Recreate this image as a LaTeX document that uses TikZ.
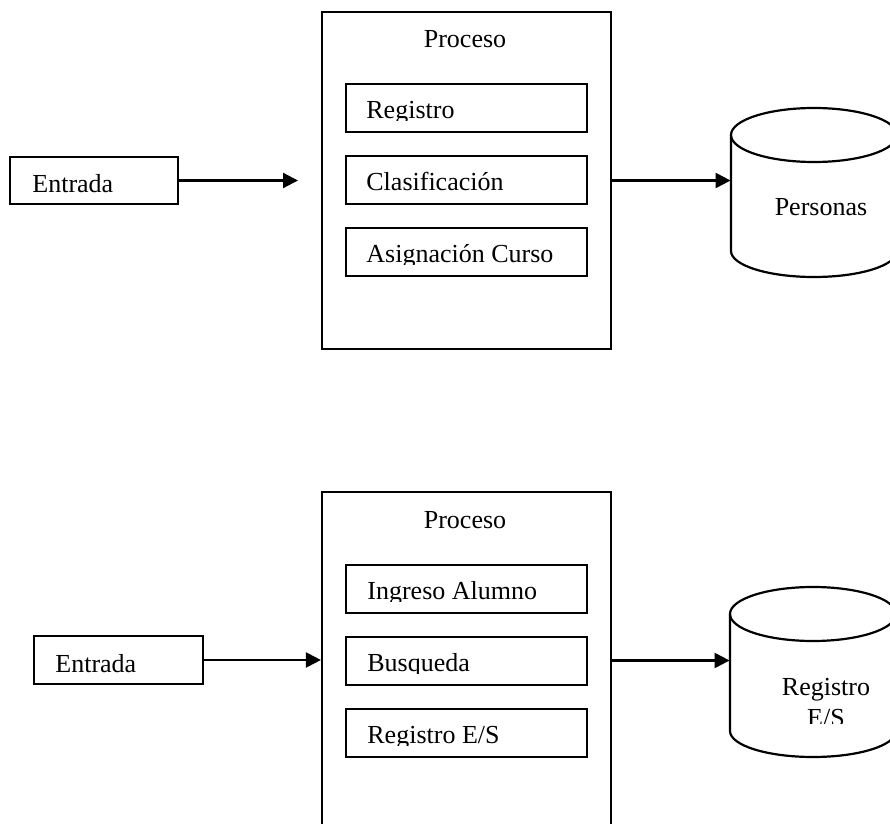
\documentclass[tikz,border=0pt]{standalone}
\usepackage{fontspec}
\setmainfont{Liberation Serif}
\usetikzlibrary{arrows.meta}
\tikzset{
  box/.style={draw, line width=1.1pt, rectangle, inner sep=0pt},
  procbox/.style={box, minimum width=144.5pt, minimum height=168.5pt},
  inbox/.style={box, minimum width=120.5pt, minimum height=24pt},
  lbl/.style={inner sep=0pt, font=\fontsize{13pt}{15pt}\selectfont},
  arr/.style={line width=1.1pt, -{Triangle[length=7.5pt,width=7.5pt]}},
  db/.style={line width=1.1pt},
  dbnode/.style={inner sep=0pt, minimum width=83pt, minimum height=84.5pt},
}
\begin{document}
\begin{tikzpicture}[x=0.5pt,y=-0.5pt]
\useasboundingbox (0,0) rectangle (890,824);
\clip (0,0) rectangle (890,824);

% ---------------- top diagram ----------------
\node[procbox] (p1) at (466.5,180.5) {};
\node[lbl, anchor=base] (p1t) at (465,48) {Proceso};

\node[inbox] (r1) at (466.5,108) {};
\begin{scope}\clip (340,80) rectangle (600,121);
  \node[lbl, anchor=base west] (r1t) at (366,119) {Registro};
\end{scope}
\node[inbox] (r2) at (466.5,180) {};
\begin{scope}\clip (340,152) rectangle (600,193);
  \node[lbl, anchor=base west] (r2t) at (366,191) {Clasificación};
\end{scope}
\node[inbox] (r3) at (466.5,252) {};
\begin{scope}\clip (340,224) rectangle (600,265);
  \node[lbl, anchor=base west] (r3t) at (366,263) {Asignación Curso};
\end{scope}

\node[box, minimum width=84pt, minimum height=23.5pt] (e1) at (94,180.5) {};
\node[lbl, anchor=base west] (e1t) at (32,193) {Entrada};
\coordinate (a1) at (298,180.5);
\draw[arr] (e1.east) -- (a1);

\node[dbnode] (db1) at (814,192.5) {};
\draw[db] (731,135) -- (731,251)
  arc[start angle=180, end angle=360, x radius=41.5pt, y radius=13pt] -- (897,135);
\draw[db] (814,135) ellipse [x radius=41.5pt, y radius=13.5pt];
\node[lbl, anchor=base] (db1t) at (821,215) {Personas};
\draw[arr] (p1.east) -- (db1.west |- p1.east);

% ---------------- bottom diagram ----------------
\node[procbox] (p2) at (466.5,660.5) {};
\node[lbl, anchor=base] (p2t) at (465,528) {Proceso};

\node[inbox] (s1) at (466.5,589) {};
\begin{scope}\clip (340,560) rectangle (600,601);
  \node[lbl, anchor=base west] (s1t) at (367,599) {Ingreso Alumno};
\end{scope}
\node[inbox] (s2) at (466.5,661) {};
\begin{scope}\clip (340,632) rectangle (600,673);
  \node[lbl, anchor=base west] (s2t) at (367,671) {Busqueda};
\end{scope}
\node[inbox] (s3) at (466.5,733) {};
\begin{scope}\clip (340,704) rectangle (600,745);
  \node[lbl, anchor=base west] (s3t) at (367,743) {Registro E/S};
\end{scope}

\node[box, minimum width=84.5pt, minimum height=24pt] (e2) at (118.5,660) {};
\node[lbl, anchor=base west] (e2t) at (55,672) {Entrada};
\draw[arr] (e2.east) -- (p2.west |- e2.east);

\node[dbnode] (db2) at (813,672.5) {};
\draw[db] (730,614) -- (730,731)
  arc[start angle=180, end angle=360, x radius=41.5pt, y radius=13pt] -- (896,614);
\draw[db] (813,614) ellipse [x radius=41.5pt, y radius=13.5pt];
\begin{scope}\clip (735,660) rectangle (890,723);
  \node[lbl, anchor=base] (db2t) at (826,695) {Registro};
  \node[lbl, anchor=base] (db2u) at (826,726) {E/S};
\end{scope}
\draw[arr] (p2.east) -- (db2.west |- p2.east);
\end{tikzpicture}
\end{document}
